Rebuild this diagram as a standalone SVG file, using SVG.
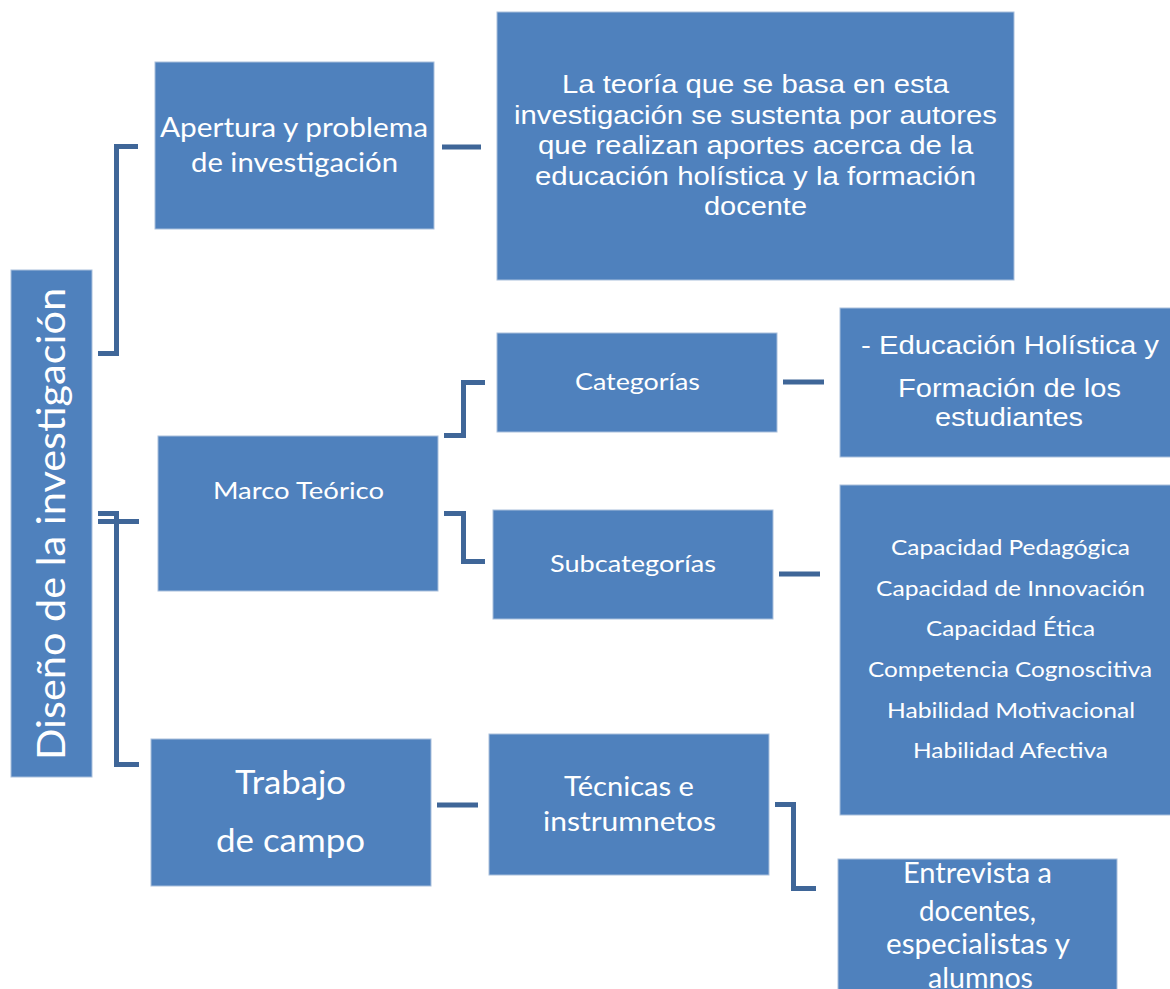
<svg xmlns="http://www.w3.org/2000/svg" width="1170" height="989" viewBox="0 0 1170 989">
<style>
.box{fill:#4f81bd;stroke:#a9bfdc;stroke-width:1}
.c{font-family:Lato,"Open Sans",sans-serif;fill:#ffffff;text-anchor:middle}
.a{font-family:"Liberation Sans",Arial,sans-serif;fill:#ffffff;text-anchor:middle}
.ln{fill:none;stroke:#3f6698;stroke-width:5;stroke-linecap:butt;stroke-linejoin:miter}
</style>
<rect width="1170" height="989" fill="#ffffff"/>
<g id="connectors">
<polyline class="ln" points="98,353.5 116.5,353.5 116.5,146.5 138,146.5"/>
<polyline class="ln" points="98,513.5 116.5,513.5"/>
<polyline class="ln" points="98,521.5 139,521.5"/>
<polyline class="ln" points="116.5,511 116.5,764.5 139,764.5"/>
<line class="ln" x1="442" y1="147" x2="481" y2="147"/>
<polyline class="ln" points="444,435.5 463.5,435.5 463.5,382.5 485,382.5"/>
<polyline class="ln" points="444,513.5 463.5,513.5 463.5,561.5 485,561.5"/>
<line class="ln" x1="783" y1="382" x2="824" y2="382"/>
<line class="ln" x1="779" y1="574" x2="820" y2="574"/>
<line class="ln" x1="437" y1="805" x2="478" y2="805"/>
<polyline class="ln" points="775,804.5 793.5,804.5 793.5,888.5 816,888.5"/>
</g>
<g id="n-diseno">
<rect class="box" x="11" y="270" width="81" height="507"/>
<text class="c" font-size="38" textLength="472" lengthAdjust="spacingAndGlyphs" transform="translate(65,524) rotate(-90)">Diseño de la investigación</text>
</g>
<g id="n-apertura">
<rect class="box" x="155" y="62" width="279" height="167"/>
<text class="c" font-size="26" x="294" y="137" textLength="268" lengthAdjust="spacingAndGlyphs">Apertura y problema</text>
<text class="c" font-size="26" x="294.5" y="172" textLength="207" lengthAdjust="spacingAndGlyphs">de investigación</text>
</g>
<g id="n-teoria">
<rect class="box" x="497" y="12" width="517" height="268"/>
<text class="a" font-size="25.5" x="755.5" y="93" textLength="387" lengthAdjust="spacingAndGlyphs">La teoría que se basa en esta</text>
<text class="a" font-size="25.5" x="755.5" y="123.5" textLength="483" lengthAdjust="spacingAndGlyphs">investigación se sustenta por autores</text>
<text class="a" font-size="25.5" x="755.5" y="154" textLength="435" lengthAdjust="spacingAndGlyphs">que realizan aportes acerca de la</text>
<text class="a" font-size="25.5" x="755.5" y="184.5" textLength="441" lengthAdjust="spacingAndGlyphs">educación holística y la formación</text>
<text class="a" font-size="25.5" x="755.5" y="215" textLength="103" lengthAdjust="spacingAndGlyphs">docente</text>
</g>
<g id="n-marco">
<rect class="box" x="158" y="436" width="280" height="155"/>
<text class="c" font-size="24" x="298.5" y="499" textLength="171" lengthAdjust="spacingAndGlyphs">Marco Teórico</text>
</g>
<g id="n-categorias">
<rect class="box" x="497" y="333" width="280" height="99"/>
<text class="c" font-size="24" x="637.5" y="390" textLength="125" lengthAdjust="spacingAndGlyphs">Categorías</text>
</g>
<g id="n-subcategorias">
<rect class="box" x="493" y="510" width="280" height="109"/>
<text class="c" font-size="24" x="633" y="572" textLength="166" lengthAdjust="spacingAndGlyphs">Subcategorías</text>
</g>
<g id="n-educacion">
<rect class="box" x="840" y="308" width="331" height="149"/>
<text class="a" font-size="25.5" x="1010" y="354" textLength="298" lengthAdjust="spacingAndGlyphs">- Educación Holística y</text>
<text class="a" font-size="25.5" x="1009.5" y="397" textLength="223" lengthAdjust="spacingAndGlyphs">Formación de los</text>
<text class="a" font-size="25.5" x="1009" y="426" textLength="148" lengthAdjust="spacingAndGlyphs">estudiantes</text>
</g>
<g id="n-capacidades">
<rect class="box" x="840" y="485" width="331" height="330"/>
<text class="c" font-size="22" x="1010.5" y="555" textLength="239" lengthAdjust="spacingAndGlyphs">Capacidad Pedagógica</text>
<text class="c" font-size="22" x="1010.5" y="596" textLength="269" lengthAdjust="spacingAndGlyphs">Capacidad de Innovación</text>
<text class="c" font-size="22" x="1010.5" y="636" textLength="169" lengthAdjust="spacingAndGlyphs">Capacidad Ética</text>
<text class="c" font-size="22" x="1010" y="677" textLength="284" lengthAdjust="spacingAndGlyphs">Competencia Cognoscitiva</text>
<text class="c" font-size="22" x="1011" y="718" textLength="248" lengthAdjust="spacingAndGlyphs">Habilidad Motivacional</text>
<text class="c" font-size="22" x="1010.5" y="758" textLength="195" lengthAdjust="spacingAndGlyphs">Habilidad Afectiva</text>
</g>
<g id="n-trabajo">
<rect class="box" x="151" y="739" width="280" height="147"/>
<text class="c" font-size="32" x="290.5" y="794" textLength="111" lengthAdjust="spacingAndGlyphs">Trabajo</text>
<text class="c" font-size="32" x="290.5" y="852" textLength="149" lengthAdjust="spacingAndGlyphs">de campo</text>
</g>
<g id="n-tecnicas">
<rect class="box" x="489" y="734" width="280" height="141"/>
<text class="c" font-size="26" x="629" y="796" textLength="130" lengthAdjust="spacingAndGlyphs">Técnicas e</text>
<text class="c" font-size="26" x="629.5" y="831" textLength="173" lengthAdjust="spacingAndGlyphs">instrumnetos</text>
</g>
<g id="n-entrevista">
<rect class="box" x="838" y="859" width="279" height="140"/>
<text class="c" font-size="28" x="977.5" y="883" textLength="149" lengthAdjust="spacingAndGlyphs">Entrevista a</text>
<text class="c" font-size="28" x="977.5" y="921" textLength="117" lengthAdjust="spacingAndGlyphs">docentes,</text>
<text class="c" font-size="28" x="978" y="954" textLength="184" lengthAdjust="spacingAndGlyphs">especialistas y</text>
<text class="c" font-size="28" x="980.5" y="988" textLength="105" lengthAdjust="spacingAndGlyphs">alumnos</text>
</g>
</svg>
